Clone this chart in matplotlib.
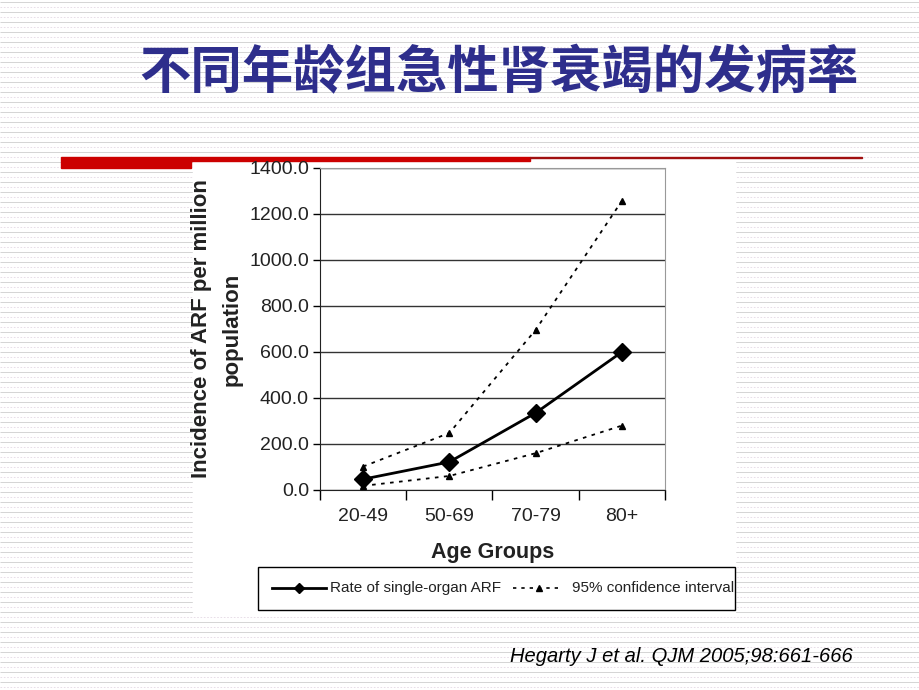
import numpy as np
import matplotlib.pyplot as plt
from matplotlib.patches import Rectangle

plt.rcParams['font.family'] = ['Liberation Sans', 'DejaVu Sans']

# data
age_groups = ["20-49", "50-69", "70-79", "80+"]
rate = [47, 122, 335, 600]
ci_upper = [102, 248, 696, 1257]
ci_lower = [18, 61, 160, 280]
yticks = np.arange(0, 1401, 200)

title = "不同年龄组急性肾衰竭的发病率"
citation = "Hegarty J et al. QJM 2005;98:661-666"
labels = ["Rate of single-organ ARF", "95% confidence interval"]

W, H = 920, 690
fig = plt.figure(figsize=(W / 100, H / 100), dpi=100)

# slide background with horizontal stripes (pixel coords)
bg = fig.add_axes([0, 0, 1, 1])
bg.set_xlim(0, W)
bg.set_ylim(H, 0)
bg.axis('off')
for i, y in enumerate(np.arange(2, H, 5)):
    if i % 2 == 0:
        bg.hlines(y, 0, W, color='#cdcdcd', lw=0.6)
    else:
        bg.hlines(y, 0, W, color='#e4d8e4', lw=0.6, linestyles=(0, (2, 2)))

# white inset picture area
bg.add_patch(Rectangle((193, 160), 542, 452, color='white', zorder=3))

# red header bars
bg.add_patch(Rectangle((61, 157), 130, 11, color='#cc0000', zorder=4))
bg.add_patch(Rectangle((191, 157), 339, 4, color='#cc0000', zorder=4))
bg.add_patch(Rectangle((530, 156.5), 332, 1.6, color='#a01010', zorder=4))

bg.text(499, 73, title, ha='center', va='center', fontsize=37, fontweight='bold',
        color='#2e2e8c', family=['Noto Sans CJK SC', 'DejaVu Sans'], zorder=5)
bg.text(853, 657, citation, ha='right', va='center', fontsize=14.5,
        style='italic', color='black', zorder=5)

# legend box drawn in slide pixels
bg.add_patch(Rectangle((258, 567), 477, 43, fill=False, ec='black', lw=1, zorder=6))
bg.plot([272, 326], [588, 588], color='black', lw=2, zorder=7)
bg.plot([299], [588], color='black', marker='D', markersize=5, zorder=7)
bg.plot([513, 563], [588, 588], color='black', lw=1.2, ls=(0, (2, 3)), zorder=7)
bg.plot([539], [588], color='black', marker='^', markersize=5, zorder=7)
bg.text(330, 588, labels[0], ha='left', va='center', fontsize=11, color='#222222', zorder=7)
bg.text(572, 588, labels[1], ha='left', va='center', fontsize=11, color='#222222', zorder=7)

# chart
ax = fig.add_axes([320 / W, (H - 490) / H, 345 / W, 322 / H])
ax.set_zorder(5)
x = np.arange(len(age_groups))
ax.plot(x, rate, color='black', lw=2, marker='D', markersize=9, zorder=4)
ax.plot(x, ci_upper, color='black', lw=1.3, ls=(0, (2, 3)), marker='^', markersize=5, zorder=3)
ax.plot(x, ci_lower, color='black', lw=1.3, ls=(0, (2, 3)), marker='^', markersize=5, zorder=3)

ax.set_xlim(-0.5, len(age_groups) - 0.5)
ax.set_ylim(0, 1400)
ax.set_yticks(yticks)
ax.set_yticklabels([f"{v:.1f}" for v in yticks], fontsize=14, color='#222222')
ax.set_xticks(np.arange(-0.5, len(age_groups), 1.0))
ax.set_xticklabels([])
ax.set_xticks(x, minor=True)
ax.set_xticklabels(age_groups, minor=True, fontsize=14, color='#222222')
ax.tick_params(axis='x', which='major', direction='out', length=7, width=1)
ax.tick_params(axis='x', which='minor', length=0, pad=13)
ax.tick_params(axis='y', direction='out', length=5, width=1, pad=3)
ax.grid(axis='y', color='#333333', lw=1)
ax.set_axisbelow(True)
for s in ['top', 'right']:
    ax.spines[s].set_color('#999999')
ax.spines['left'].set_color('#222222')
ax.spines['bottom'].set_color('#222222')

ax.set_xlabel("Age Groups", fontsize=15.5, fontweight='bold', color='#222222', labelpad=12)
fig.text(202 / W, (H - 329) / H, "Incidence of ARF per million", rotation=90,
         ha='center', va='center', fontsize=16, fontweight='bold', color='#222222', zorder=6)
fig.text(232 / W, (H - 329) / H, "population", rotation=90,
         ha='center', va='center', fontsize=16, fontweight='bold', color='#222222', zorder=6)

fig.savefig("out.png", dpi=100)
